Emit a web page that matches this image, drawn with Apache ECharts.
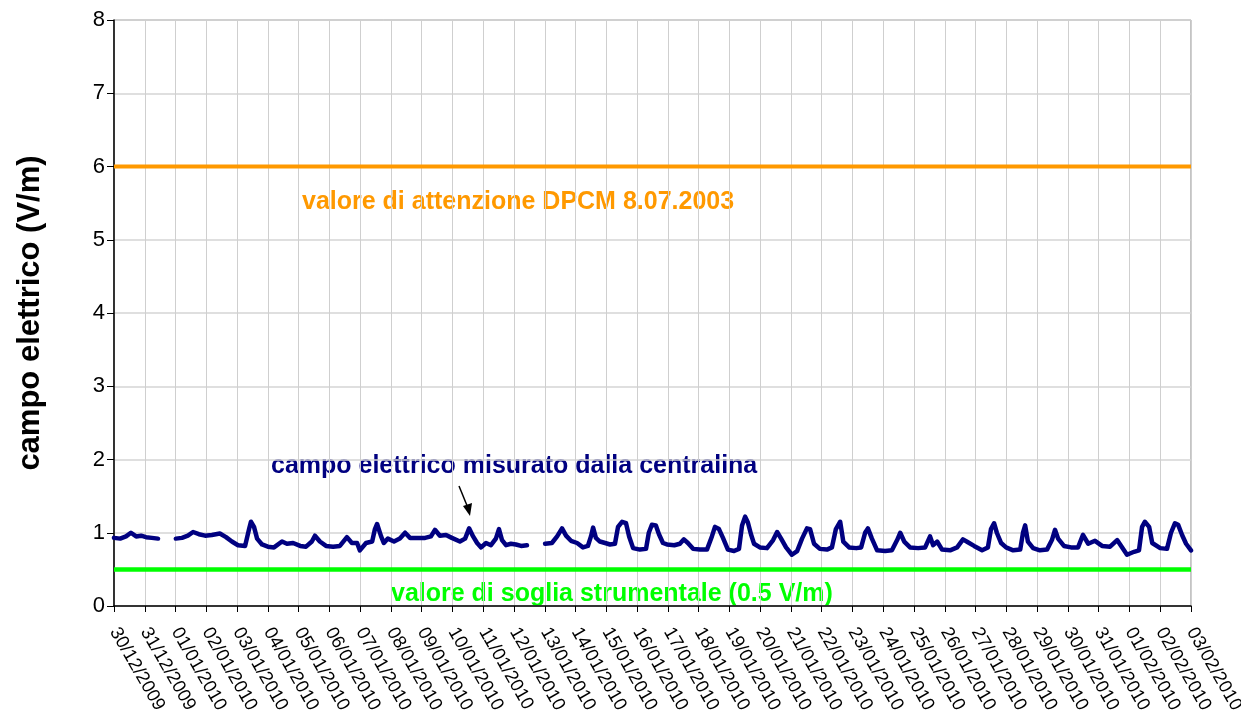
<!DOCTYPE html>
<html>
<head>
<meta charset="utf-8">
<script src="https://cdn.jsdelivr.net/npm/echarts@6/dist/echarts.min.js"></script>
<style>
html,body{margin:0;padding:0;background:#fff;}
#chart{width:1241px;height:719px;}
</style>
</head>
<body>
<div id="chart"></div>
<script>
// Tick labels (one per day)
const dayLabels = ["30/12/2009","31/12/2009","01/01/2010","02/01/2010","03/01/2010","04/01/2010","05/01/2010","06/01/2010","07/01/2010","08/01/2010","09/01/2010","10/01/2010","11/01/2010","12/01/2010","13/01/2010","14/01/2010","15/01/2010","16/01/2010","17/01/2010","18/01/2010","19/01/2010","20/01/2010","21/01/2010","22/01/2010","23/01/2010","24/01/2010","25/01/2010","26/01/2010","27/01/2010","28/01/2010","29/01/2010","30/01/2010","31/01/2010","01/02/2010","02/02/2010","03/02/2010"];

// Measurement times (days since 30/12/2009 00:00); null = missing data
const measTimes = [
0.00,0.20,0.39,0.55,0.72,0.88,1.04,1.23,1.43,1.70,
2.01,2.21,2.40,2.57,2.76,2.96,3.18,3.44,3.64,3.83,4.03,4.26,4.39,4.45,4.55,4.65,4.81,5.00,5.20,5.46,5.62,5.82,6.05,6.24,6.43,6.53,6.69,6.89,7.12,7.34,7.57,7.73,7.90,7.99,8.19,8.39,8.48,8.55,8.68,8.77,8.90,9.10,
9.29,9.46,9.62,9.88,10.11,10.30,10.43,10.59,10.79,10.98,11.24,11.41,11.54,11.67,11.80,11.93,12.09,12.25,12.41,12.51,12.61,12.74,12.90,13.06,13.23,13.42,13.70,
14.01,14.23,14.40,14.56,14.69,14.85,15.05,15.24,15.40,15.50,15.57,15.66,15.79,15.96,16.12,16.28,16.38,16.51,16.64,16.74,16.87,17.09,17.29,17.38,17.48,17.61,17.71,17.84,
17.97,18.21,18.39,18.52,18.65,18.82,19.04,19.27,19.43,19.53,19.66,19.79,19.95,20.15,20.31,20.41,20.51,20.60,20.70,20.80,20.99,21.22,21.42,21.55,21.68,21.84,22.03,22.20,22.36,22.52,22.62,22.75,22.94,23.17,23.33,
23.46,23.60,23.70,23.89,24.12,24.28,24.41,24.50,24.63,24.80,25.06,25.28,25.45,25.55,25.68,25.87,26.13,26.36,26.52,26.62,26.75,26.91,27.17,27.40,27.59,27.75,27.95,28.21,28.40,28.50,28.60,28.69,28.83,28.99,29.22,
29.45,29.54,29.61,29.70,29.87,30.09,30.32,30.48,30.58,30.68,30.87,31.10,31.33,31.49,31.66,31.88,32.11,32.37,32.60,32.79,32.92,33.15,33.31,33.41,33.50,33.64,33.74,34.00,34.22,34.35,34.48,34.58,34.71,34.84,35.00
];
const measValues = [
0.93,0.92,0.95,1.00,0.95,0.96,0.94,0.93,0.92,null,
0.92,0.93,0.96,1.01,0.98,0.96,0.97,0.99,0.94,0.88,0.83,0.82,1.05,1.15,1.08,0.92,0.84,0.81,0.80,0.88,0.85,0.86,0.82,0.81,0.88,0.96,0.88,0.82,0.81,0.82,0.94,0.86,0.86,0.76,0.86,0.88,1.05,1.12,0.95,0.86,0.92,0.88,
0.92,1.00,0.93,0.93,0.93,0.95,1.04,0.96,0.97,0.93,0.88,0.92,1.06,0.95,0.86,0.80,0.86,0.83,0.92,1.05,0.90,0.83,0.85,0.84,0.82,0.83,null,
0.85,0.86,0.95,1.06,0.96,0.89,0.86,0.80,0.82,0.95,1.07,0.93,0.88,0.86,0.84,0.85,1.08,1.15,1.13,0.95,0.79,0.77,0.78,1.00,1.11,1.10,0.98,0.86,
0.84,0.83,0.85,0.91,0.86,0.78,0.77,0.77,0.95,1.08,1.05,0.93,0.77,0.75,0.78,1.10,1.22,1.14,0.98,0.85,0.80,0.79,0.90,1.01,0.92,0.80,0.70,0.75,0.92,1.06,1.05,0.85,0.78,0.77,0.80,
1.05,1.15,0.88,0.80,0.79,0.80,1.00,1.06,0.92,0.76,0.75,0.76,0.90,1.00,0.88,0.80,0.79,0.80,0.95,0.83,0.88,0.77,0.76,0.80,0.91,0.87,0.82,0.76,0.80,1.05,1.13,1.00,0.86,0.80,0.76,
0.77,1.00,1.10,0.88,0.79,0.76,0.77,0.90,1.04,0.92,0.82,0.80,0.80,0.97,0.85,0.89,0.82,0.81,0.90,0.78,0.70,0.74,0.76,1.08,1.15,1.08,0.86,0.79,0.78,1.00,1.13,1.11,0.97,0.85,0.76
];

// Reference levels (V/m)
const attentionLevel = 6;
const thresholdLevel = 0.5;
const xRange = [0, 35];
const yTicks = [0,1,2,3,4,5,6,7,8];

const measData = measTimes.map((t, i) => [t, measValues[i]]);
const FONT = '"Liberation Sans", Arial, sans-serif';

const chart = echarts.init(document.getElementById('chart'), null, {renderer: 'canvas'});
chart.setOption({
  animation: false,
  backgroundColor: '#fff',
  grid: {left: 114, right: 50, top: 20, bottom: 113, show: true, borderColor: '#888', borderWidth: 1,
         backgroundColor: 'transparent', containLabel: false, outerBoundsMode: 'none'},
  xAxis: {
    type: 'value', min: xRange[0], max: xRange[1], interval: 1,
    axisLine: {show: true, onZero: false, lineStyle: {color: '#000', width: 1.5}},
    axisTick: {show: true, length: 6, lineStyle: {color: '#000'}},
    splitLine: {show: true, lineStyle: {color: '#cfcfcf', width: 1}},
    axisLabel: {
      rotate: -60, fontSize: 18.5, color: '#000', fontFamily: FONT, margin: 23,
      hideOverlap: false, showMinLabel: true, showMaxLabel: true,
      formatter: v => dayLabels[Math.round(v)] || ''
    }
  },
  yAxis: {
    type: 'value', min: yTicks[0], max: yTicks[yTicks.length - 1], interval: 1,
    name: 'campo elettrico (V/m)', nameLocation: 'middle', nameGap: 68,
    nameTextStyle: {fontSize: 31, fontWeight: 'bold', color: '#000', fontFamily: FONT},
    axisLine: {show: true, lineStyle: {color: '#000', width: 1.5}},
    axisTick: {show: true, length: 7, lineStyle: {color: '#000'}},
    splitLine: {show: true, lineStyle: {color: '#d4d4d4', width: 1.5}},
    axisLabel: {fontSize: 22, color: '#000', fontFamily: FONT, margin: 9}
  },
  series: [
    {
      type: 'line', data: [[xRange[0], attentionLevel], [xRange[1], attentionLevel]],
      symbol: 'none', lineStyle: {color: '#FF9900', width: 4}, z: 3
    },
    {
      type: 'line', data: [[xRange[0], thresholdLevel], [xRange[1], thresholdLevel]],
      symbol: 'none', lineStyle: {color: '#00FF00', width: 4.5}, z: 3
    },
    {
      type: 'line', data: measData, connectNulls: false,
      symbol: 'none', lineStyle: {color: '#000080', width: 4.5, join: 'round', cap: 'round'}, z: 4
    }
  ],
  graphic: [
    {type: 'text', left: 302, top: 190, style: {text: 'valore di attenzione DPCM 8.07.2003', fill: '#FF9900', font: 'bold 25px ' + FONT}},
    {type: 'text', left: 271, top: 454, style: {text: 'campo elettrico misurato dalla centralina', fill: '#000080', font: 'bold 25px ' + FONT}},
    {type: 'text', left: 391, top: 582, style: {text: 'valore di soglia strumentale (0.5 V/m)', fill: '#00FF00', font: 'bold 25px ' + FONT}},
    {type: 'line', shape: {x1: 459, y1: 486, x2: 468, y2: 508}, style: {stroke: '#000', lineWidth: 1.5}},
    {type: 'polygon', shape: {points: [[470, 516], [463, 506], [472, 503]]}, style: {fill: '#000'}}
  ]
});
</script>
</body>
</html>
